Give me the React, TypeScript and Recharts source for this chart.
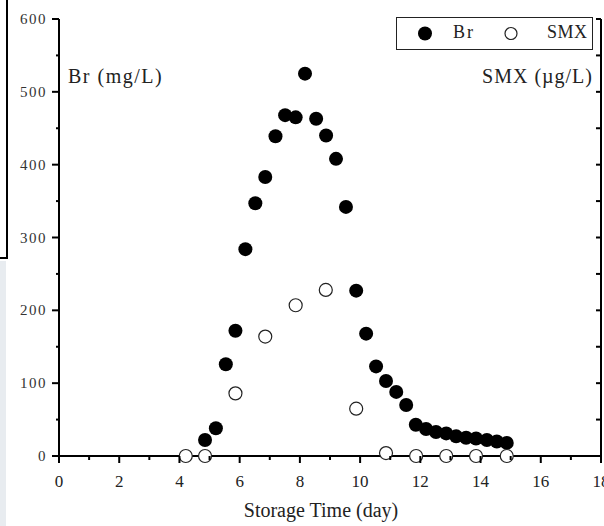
import React from 'react';
import { ScatterChart, Scatter, XAxis, YAxis, Legend } from 'recharts';

// Br (mg/L) sampled roughly every 8 hours
const brDays = [4.85, 5.21, 5.54, 5.86, 6.19, 6.52, 6.85, 7.19, 7.51, 7.86, 8.17, 8.54, 8.87, 9.2, 9.53, 9.87, 10.2, 10.53, 10.86, 11.2, 11.53, 11.85, 12.19, 12.52, 12.86, 13.19, 13.52, 13.85, 14.21, 14.54, 14.87];
const brValues = [22, 38, 126, 172, 284, 347, 383, 439, 468, 465, 525, 463, 440, 408, 342, 227, 168, 123, 103, 88, 70, 43, 37, 33, 31, 27, 25, 24, 22, 20, 18];

// SMX (µg/L), daily samples
const smxDays = [4.21, 4.85, 5.86, 6.85, 7.86, 8.86, 9.87, 10.86, 11.86, 12.86, 13.85, 14.87];
const smxValues = [0, 0, 86, 164, 207, 228, 65, 4, 0, 0, 0, 0];

const xTicks = [0, 1, 2, 3, 4, 5, 6, 7, 8, 9, 10, 11, 12, 13, 14, 15, 16, 17, 18];
const yTicks = [0, 50, 100, 150, 200, 250, 300, 350, 400, 450, 500, 550, 600];

const FONT = "'Liberation Serif', 'Times New Roman', serif";

const brData = brDays.map((d, i) => ({ day: d, value: brValues[i] }));
const smxData = smxDays.map((d, i) => ({ day: d, value: smxValues[i] }));

const XTick = (props: any) => {
  const { x, y, payload } = props;
  const major = payload.value % 2 === 0;
  return (
    <g>
      <line x1={x} x2={x} y1={y} y2={y + (major ? 7 : 4)} stroke="#000" strokeWidth={2} />
      {major && (
        <text x={x} y={y + 31} textAnchor="middle" fontFamily={FONT} fontSize={17} fill="#222">
          {payload.value}
        </text>
      )}
    </g>
  );
};

const YTickLeft = (props: any) => {
  const { x, y, payload } = props;
  const major = payload.value % 100 === 0;
  return (
    <g>
      <line x1={x} x2={x - (major ? 7 : 3)} y1={y} y2={y} stroke="#000" strokeWidth={2} />
      {major && (
        <text x={x - 12} y={y + 5} textAnchor="end" fontFamily={FONT} fontSize={15} letterSpacing={1.5} fill="#333">
          {payload.value}
        </text>
      )}
    </g>
  );
};

const YTickRight = (props: any) => {
  const { x, y } = props;
  return <line x1={x} x2={x - 5} y1={y} y2={y} stroke="#000" strokeWidth={2} />;
};

const dot = (props: any) => <circle cx={props.cx} cy={props.cy} r={7} fill="#000" />;
const ring = (props: any) => (
  <circle cx={props.cx} cy={props.cy} r={6.5} fill="#fff" stroke="#222" strokeWidth={1.2} />
);

const LegendBox = () => (
  <svg width={197} height={33} style={{ display: 'block' }}>
    <rect x={0.5} y={0.5} width={196} height={32} fill="#fff" stroke="#222" strokeWidth={1} />
    <circle cx={29} cy={16.5} r={7} fill="#000" />
    <text x={57} y={21} fontFamily={FONT} fontSize={18} letterSpacing={2} fill="#222">Br</text>
    <circle cx={115} cy={16.5} r={6} fill="#fff" stroke="#222" strokeWidth={1.2} />
    <text x={151} y={21} fontFamily={FONT} fontSize={18} letterSpacing={0.5} fill="#222">SMX</text>
  </svg>
);

const titleStyle: React.CSSProperties = {
  position: 'absolute',
  fontFamily: FONT,
  fontSize: 20,
  lineHeight: '20px',
  color: '#222',
  whiteSpace: 'nowrap',
};

export default function App() {
  return (
    <div style={{ position: 'absolute', left: 0, top: 0, width: 604, height: 526, background: '#fff', overflow: 'hidden' }}>
      {/* cropped frame leftovers on the left edge */}
      <div style={{ position: 'absolute', left: 6, top: 0, width: 2, height: 259, background: '#000' }} />
      <div style={{ position: 'absolute', left: 0, top: 257, width: 8, height: 2, background: '#000' }} />
      <div style={{ position: 'absolute', left: 0, top: 261, width: 6, height: 265, background: '#e8ecf0' }} />

      <ScatterChart width={604} height={526} margin={{ top: 19, right: 0, bottom: 0, left: 0 }}>
        <XAxis
          type="number"
          dataKey="day"
          domain={[0, 18]}
          ticks={xTicks}
          interval={0}
          height={70}
          tickSize={0}
          tickMargin={0}
          tick={<XTick />}
          axisLine={{ stroke: '#000', strokeWidth: 2 }}
          tickLine={false}
        />
        <YAxis
          yAxisId="left"
          type="number"
          dataKey="value"
          domain={[0, 600]}
          ticks={yTicks}
          interval={0}
          width={59}
          tickSize={0}
          tickMargin={0}
          tick={<YTickLeft />}
          axisLine={{ stroke: '#000', strokeWidth: 2 }}
          tickLine={false}
        />
        <YAxis
          yAxisId="right"
          orientation="right"
          type="number"
          dataKey="value"
          domain={[0, 600]}
          ticks={yTicks}
          interval={0}
          width={3}
          tickSize={0}
          tickMargin={0}
          tick={<YTickRight />}
          axisLine={{ stroke: '#000', strokeWidth: 2 }}
          tickLine={false}
        />
        <Legend
          content={<LegendBox />}
          layout="horizontal"
          verticalAlign="middle"
          align="center"
          width={197}
          wrapperStyle={{ left: 396, top: 17, width: 197, height: 33 }}
        />
        <Scatter name="Br" yAxisId="left" data={brData} shape={dot} isAnimationActive={false} />
        <Scatter name="SMX" yAxisId="right" data={smxData} shape={ring} isAnimationActive={false} />
      </ScatterChart>

      <div style={{ ...titleStyle, left: 68, top: 66, letterSpacing: 1.5 }}>Br (mg/L)</div>
      <div style={{ ...titleStyle, right: 11, top: 66, letterSpacing: 1 }}>SMX (µg/L)</div>
      <div style={{ ...titleStyle, left: 243, top: 500, width: 156, textAlign: 'center' }}>Storage Time (day)</div>
    </div>
  );
}
